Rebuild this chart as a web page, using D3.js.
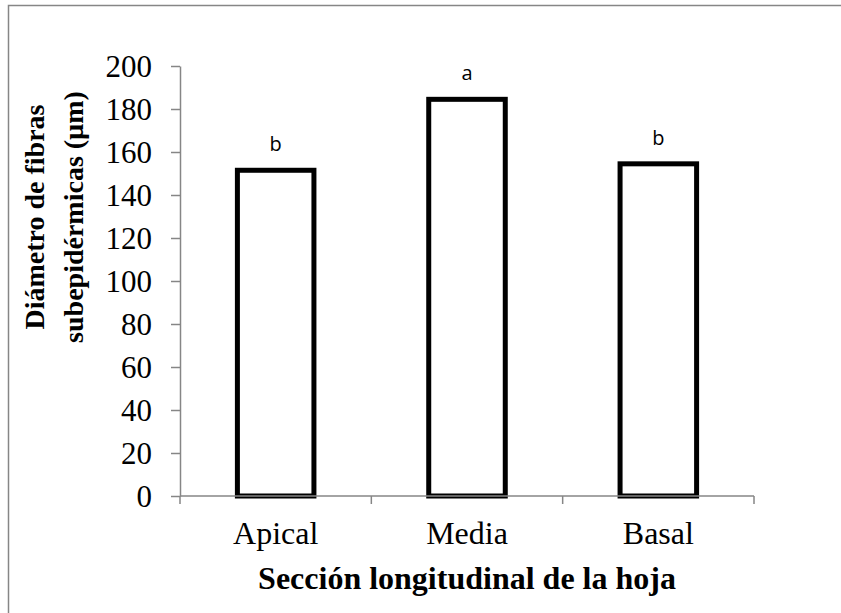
<!DOCTYPE html>
<html>
<head>
<meta charset="utf-8">
<script src="https://cdn.jsdelivr.net/npm/d3@7"></script>
<style>
  body { margin: 0; background: #fff; overflow: hidden; }
  svg { display: block; }
</style>
</head>
<body>
<div id="chart"></div>
<script>
// values
let categories = ['Apical', 'Media', 'Basal']
let diameters = [151.5, 184.5, 154.5]
let letters = ['b', 'a', 'b']
let yTicks = [0, 20, 40, 60, 80, 100, 120, 140, 160, 180, 200]

let width = 841
let height = 613
let axisGrey = '#868686'

let svg = d3.select('#chart').append('svg')
  .attr('width', width)
  .attr('height', height)

// chart area border (runs off the right and bottom edge)
svg.append('rect')
  .attr('x', 8.5).attr('y', 5.5)
  .attr('width', 1200).attr('height', 1000)
  .attr('fill', 'none')
  .attr('stroke', axisGrey)
  .attr('stroke-width', 1.5)

let x = d3.scaleBand()
  .domain(categories)
  .range([180, 754])
  .paddingInner(0.6)
  .paddingOuter(0.3)

let y = d3.scaleLinear()
  .domain([0, 200])
  .range([496, 66])

// bars
svg.selectAll('rect.bar')
  .data(categories)
  .enter().append('rect')
  .attr('class', 'bar')
  .attr('x', d => x(d))
  .attr('width', x.bandwidth())
  .attr('y', (d, i) => y(diameters[i]))
  .attr('height', (d, i) => y(0) - y(diameters[i]))
  .attr('fill', '#fff')
  .attr('stroke', '#000')
  .attr('stroke-width', 5)

// significance letters
svg.selectAll('text.letter')
  .data(categories)
  .enter().append('text')
  .attr('class', 'letter')
  .attr('x', d => x(d) + x.bandwidth() / 2)
  .attr('y', (d, i) => y(diameters[i]) - 19)
  .attr('text-anchor', 'middle')
  .style('font-family', '"Open Sans", "Liberation Sans", sans-serif')
  .style('font-size', '20px')
  .text((d, i) => letters[i])

// y axis
let yAxis = svg.append('g')
  .attr('transform', 'translate(180,0)')
  .call(d3.axisLeft(y).tickValues(yTicks).tickSizeInner(9).tickSizeOuter(0).tickPadding(19))
yAxis.select('.domain').attr('stroke', axisGrey).attr('stroke-width', 1.5)
yAxis.selectAll('.tick line').attr('stroke', axisGrey).attr('stroke-width', 1.5)
yAxis.selectAll('.tick text')
  .attr('fill', '#000')
  .attr('dy', '0.34em')
  .style('font-family', '"Liberation Serif", "Times New Roman", serif')
  .style('font-size', '31px')

// x axis: baseline, category boundary ticks, labels
let x0 = x.range()[0]
let x1 = x.range()[1]
svg.append('line')
  .attr('x1', x0).attr('x2', x1)
  .attr('y1', y(0)).attr('y2', y(0))
  .attr('stroke', axisGrey).attr('stroke-width', 1.5)

let bounds = d3.range(categories.length + 1).map(i => x0 + i * x.step())
svg.selectAll('line.xtick')
  .data(bounds)
  .enter().append('line')
  .attr('class', 'xtick')
  .attr('x1', d => d).attr('x2', d => d)
  .attr('y1', y(0)).attr('y2', y(0) + 8)
  .attr('stroke', axisGrey).attr('stroke-width', 1.5)

svg.selectAll('text.xlabel')
  .data(categories)
  .enter().append('text')
  .attr('class', 'xlabel')
  .attr('x', d => x(d) + x.bandwidth() / 2)
  .attr('y', 544)
  .attr('text-anchor', 'middle')
  .style('font-family', '"Liberation Serif", "Times New Roman", serif')
  .style('font-size', '32px')
  .text(d => d)

// axis titles
svg.append('text')
  .attr('x', (x0 + x1) / 2)
  .attr('y', 589)
  .attr('text-anchor', 'middle')
  .style('font-family', '"Liberation Serif", "Times New Roman", serif')
  .style('font-size', '32px')
  .style('font-weight', 'bold')
  .text('Sección longitudinal de la hoja')

let yTitle = svg.append('text')
  .attr('text-anchor', 'middle')
  .attr('transform', 'translate(44,217)rotate(-90)')
  .style('font-family', '"Liberation Serif", "Times New Roman", serif')
  .style('font-size', '28px')
  .style('font-weight', 'bold')
yTitle.append('tspan').attr('x', 0).attr('y', 0).text('Diámetro de fibras')
yTitle.append('tspan').attr('x', 0).attr('y', 39).text('subepidérmicas (µm)')
</script>
</body>
</html>
